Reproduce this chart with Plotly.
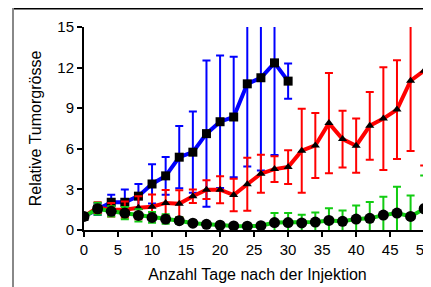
import plotly.graph_objects as go

days_blue = [0, 2, 4, 6, 8, 10, 12, 14, 16, 18, 20, 22, 24, 26, 28, 30]
blue_vals = [1.0, 1.55, 2.05, 2.05, 2.5, 3.4, 4.0, 5.38, 5.75, 7.12, 8.0, 8.35, 10.8, 11.25, 12.35, 11.0]
blue_err = [0, 0.45, 0.56, 0.94, 0.9, 1.45, 1.4, 2.3, 3.0, 5.4, 4.9, 4.45, 6.1, 6.85, 6.8, 1.3]

days = [0, 2, 4, 6, 8, 10, 12, 14, 16, 18, 20, 22, 24, 26, 28, 30, 32, 34, 36, 38, 40, 42, 44, 46, 48, 50]
red_vals = [1.0, 1.65, 1.5, 1.5, 1.65, 1.72, 2.0, 1.94, 2.5, 2.98, 2.98, 2.58, 3.38, 4.16, 4.5, 4.65,
            5.86, 6.25, 7.9, 6.72, 6.23, 7.7, 8.23, 8.9, 11.03, 11.77]
red_err = [0, 0.4, 0.5, 0.6, 0.85, 0.9, 0.95, 1.0, 0.5, 0.69, 1.0, 1.2, 1.95, 1.4, 0.95, 1.25,
           3.1, 2.4, 3.7, 2.1, 2.0, 2.5, 3.8, 3.65, 5.2, 7.0]
green_vals = [1.0, 1.57, 1.38, 1.25, 1.08, 0.93, 0.81, 0.69, 0.5, 0.42, 0.35, 0.3, 0.28, 0.32, 0.55, 0.55,
              0.52, 0.59, 0.71, 0.64, 0.81, 0.86, 1.1, 1.25, 1.0, 1.57]
green_err = [0, 0.45, 0.38, 0.45, 0.45, 0.4, 0.35, 0.25, 0.15, 0.1, 0.1, 0.1, 0.1, 0.1, 0.7, 0.7,
             0.6, 0.7, 0.9, 0.8, 1.0, 1.2, 1.35, 1.95, 1.55, 2.45]

x_ticks = [0, 5, 10, 15, 20, 25, 30, 35, 40, 45, 50]
y_ticks = [0, 3, 6, 9, 12, 15]

FONT = "Liberation Sans, Arial, sans-serif"

fig = go.Figure()

def add_series(x, y, err, color, symbol, msize):
    fig.add_trace(go.Scatter(
        x=x, y=y, mode="lines+markers",
        line=dict(color=color, width=4),
        marker=dict(symbol=symbol, size=msize, color="black", line=dict(width=0)),
        error_y=dict(type="data", array=err, visible=True, color=color, thickness=2, width=4),
        showlegend=False,
    ))

add_series(days_blue, blue_vals, blue_err, "#0000ff", "square", 9)
add_series(days, red_vals, red_err, "#ff0000", "triangle-up", 8)
add_series(days, green_vals, green_err, "#11cc11", "circle", 11)

# page body has an 8px default margin, so the figure is offset by 8px
W, H = 423, 279
L, R, T, B = 76, 0, 19, 57
pw, ph = W - L - R, H - T - B

def px_x(px):
    return (px - L) / pw

def px_y(py):
    return (H - B - py) / ph

fig.update_layout(
    width=W, height=H,
    margin=dict(l=L, r=R, t=T, b=B, pad=0),
    paper_bgcolor="white", plot_bgcolor="white",
    font=dict(family=FONT, color="black", size=15),
    xaxis=dict(
        range=[0, 51], tickvals=x_ticks, ticktext=[str(v) for v in x_ticks],
        showgrid=False, zeroline=False, showline=True, linecolor="black", linewidth=2,
        ticks="outside", ticklen=5, tickwidth=2, tickcolor="black",
        tickfont=dict(size=15), automargin=False, ticklabeloverflow="allow",
        title=dict(text="Anzahl Tage nach der Injektion", font=dict(size=16), standoff=12),
    ),
    yaxis=dict(
        range=[0, 15], tickvals=y_ticks, ticktext=[str(v) for v in y_ticks],
        showgrid=False, zeroline=False, showline=True, linecolor="black", linewidth=2,
        ticks="outside", ticklen=5, tickwidth=2, tickcolor="black",
        tickfont=dict(size=15), automargin=False, ticklabeloverflow="allow",
        title=dict(text="Relative Tumorgrösse", font=dict(size=16), standoff=12),
    ),
    shapes=[
        dict(type="line", xref="paper", yref="paper", x0=px_x(5), x1=px_x(423), y0=px_y(0.75), y1=px_y(0.75),
             line=dict(color="black", width=1.5)),
        dict(type="line", xref="paper", yref="paper", x0=px_x(5), x1=px_x(5), y0=px_y(0), y1=px_y(279),
             line=dict(color="#888888", width=2)),
    ],
)

fig.write_html("out.html")
